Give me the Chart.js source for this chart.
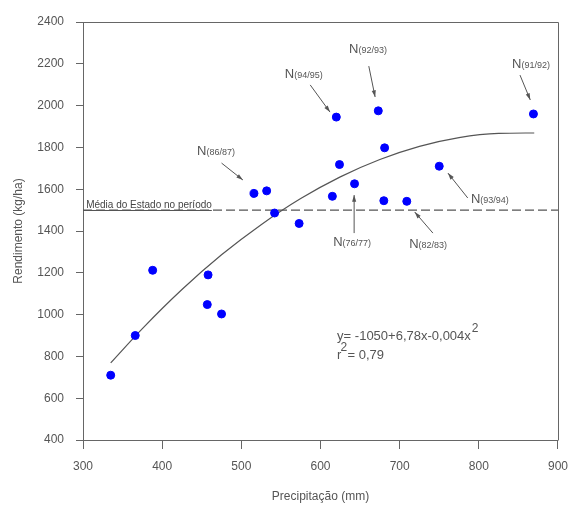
<!DOCTYPE html>
<html>
<head>
<meta charset="utf-8">
<script src="https://cdn.jsdelivr.net/npm/chart.js@4.4.1/dist/chart.umd.min.js"></script>
<style>
  html, body { margin: 0; padding: 0; background: #fff; }
</style>
</head>
<body>
<canvas id="chart" width="578" height="506"></canvas>
<script>
// precipitação (mm) x rendimento (kg/ha), um ponto por safra
const precip = [335, 366, 388, 458, 457, 475, 516, 532, 542, 573, 615, 643, 680, 709, 620, 673, 681, 624, 750, 869];
const rend   = [710, 900, 1212, 1190, 1048, 1003, 1580, 1592, 1486, 1436, 1566, 1626, 1545, 1542, 1945, 1975, 1798, 1718, 1710, 1960];

// curva ajustada
const curvaX = [335, 375, 425, 475, 525, 575, 625, 675, 725, 775, 825, 870];
const curvaY = [769, 933, 1120, 1286, 1430, 1555, 1659, 1742, 1805, 1847, 1867, 1869];

// media do estado no periodo
const mediaX = [300, 900];
const mediaY = [1500, 1500];

const safras = ['91/92', '92/93', '94/95', '86/87', '93/94', '76/77', '82/83'];

const FONT = "'Liberation Sans', Arial, sans-serif";
const TXT = '#555';

function pts(xs, ys) {
  return xs.map((x, i) => ({ x: x, y: ys[i] }));
}

const notas = {
  id: 'notas',
  afterDatasetsDraw(chart) {
    const { ctx, chartArea: a, scales: { x, y } } = chart;
    ctx.save();
    // moldura
    ctx.strokeStyle = '#666';
    ctx.lineWidth = 1;
    ctx.beginPath();
    ctx.moveTo(Math.round(a.left) + 0.5, Math.round(a.top) + 0.5);
    ctx.lineTo(Math.round(a.right) + 0.5, Math.round(a.top) + 0.5);
    ctx.lineTo(Math.round(a.right) + 0.5, Math.round(a.bottom) + 0.5);
    ctx.stroke();

    // rotulos das safras: [texto em (x,y)], seta de -> ate
    const pos = [
      [842, 2180, 852, 2146, 865, 2027],
      [636, 2252, 661, 2189, 669, 2041],
      [555, 2132, 587, 2099, 612, 1969],
      [444, 1764, 475, 1725, 502, 1644],
      [790, 1534, 786, 1558, 761, 1677],
      [616, 1328, 642.5, 1390, 642.5, 1572],
      [712, 1319, 742, 1390, 719, 1491]
    ];
    ctx.fillStyle = TXT;
    ctx.strokeStyle = '#555';
    ctx.textBaseline = 'alphabetic';
    ctx.textAlign = 'left';
    safras.forEach((s, i) => {
      const p = pos[i];
      const tx = x.getPixelForValue(p[0]);
      const ty = y.getPixelForValue(p[1]);
      ctx.font = '13px ' + FONT;
      ctx.fillText('N', tx, ty);
      const w = ctx.measureText('N').width;
      ctx.font = '9px ' + FONT;
      ctx.fillText('(' + s + ')', tx + w, ty);
      arrow(ctx, x.getPixelForValue(p[2]), y.getPixelForValue(p[3]),
                 x.getPixelForValue(p[4]), y.getPixelForValue(p[5]));
    });

    // media
    ctx.font = '10px ' + FONT;
    ctx.fillStyle = '#444';
    const mx = x.getPixelForValue(304);
    const mTxt = 'Média do Estado no período';
    ctx.fillText(mTxt, mx, y.getPixelForValue(1512));
    const my = Math.round(y.getPixelForValue(1500)) + 0.5;
    ctx.strokeStyle = '#555';
    ctx.lineWidth = 1.2;
    ctx.beginPath();
    ctx.moveTo(a.left, my);
    ctx.lineTo(mx + ctx.measureText(mTxt).width, my);
    ctx.stroke();

    // equacao
    ctx.fillStyle = TXT;
    ctx.font = '13px ' + FONT;
    const ex = x.getPixelForValue(621);
    const ey = y.getPixelForValue(878);
    const eq = 'y= -1050+6,78x-0,004x';
    ctx.fillText(eq, ex, ey);
    const ew = ctx.measureText(eq).width;
    ctx.font = '12px ' + FONT;
    ctx.fillText('2', ex + ew + 1, ey - 8);
    const ry = y.getPixelForValue(787);
    ctx.font = '13px ' + FONT;
    ctx.fillText('r', ex, ry);
    const rw = ctx.measureText('r').width;
    ctx.font = '12px ' + FONT;
    ctx.fillText('2', ex + rw - 1, ry - 8);
    ctx.font = '13px ' + FONT;
    ctx.fillText('= 0,79', ex + rw + 6, ry);
    ctx.restore();
  }
};

function arrow(ctx, x1, y1, x2, y2) {
  const ang = Math.atan2(y2 - y1, x2 - x1);
  const L = 7;
  ctx.lineWidth = 1;
  ctx.beginPath();
  ctx.moveTo(x1, y1);
  ctx.lineTo(x2, y2);
  ctx.stroke();
  ctx.beginPath();
  ctx.moveTo(x2, y2);
  ctx.lineTo(x2 - L * Math.cos(ang - 0.3), y2 - L * Math.sin(ang - 0.3));
  ctx.lineTo(x2 - L * Math.cos(ang + 0.3), y2 - L * Math.sin(ang + 0.3));
  ctx.closePath();
  ctx.fillStyle = '#555';
  ctx.fill();
}

const ctx = document.getElementById('chart').getContext('2d');
new Chart(ctx, {
  type: 'scatter',
  data: {
    datasets: [
      {
        data: pts(curvaX, curvaY),
        showLine: true,
        borderColor: '#555',
        borderWidth: 1.2,
        pointRadius: 0,
        cubicInterpolationMode: 'monotone',
        order: 3
      },
      {
        data: pts(mediaX, mediaY),
        showLine: true,
        borderColor: '#555',
        borderWidth: 1.2,
        borderDash: [9, 4],
        pointRadius: 0,
        order: 2
      },
      {
        data: pts(precip, rend),
        backgroundColor: '#0000ff',
        borderColor: '#0000ff',
        pointRadius: 4,
        order: 1
      }
    ]
  },
  options: {
    responsive: false,
    animation: false,
    devicePixelRatio: 1,
    layout: { padding: { top: 22, right: 15, left: 0, bottom: 0 } },
    plugins: { legend: { display: false }, tooltip: { enabled: false } },
    scales: {
      x: {
        type: 'linear',
        min: 300,
        max: 900,
        ticks: { stepSize: 100, color: TXT, font: { family: FONT, size: 12 }, padding: 10, callback: v => String(v) },
        grid: { drawOnChartArea: false, tickLength: 9, color: '#666' },
        border: { color: '#666' },
        title: { display: true, text: 'Precipitação (mm)', color: TXT, font: { family: FONT, size: 12 }, padding: { top: 0, bottom: 2 } },
        afterFit: s => { s.height = 66; }
      },
      y: {
        min: 400,
        max: 2400,
        ticks: { stepSize: 200, color: TXT, font: { family: FONT, size: 12 }, padding: 12, callback: v => String(v) },
        grid: { drawOnChartArea: false, tickLength: 7, color: '#666' },
        border: { color: '#666' },
        title: { display: true, text: 'Rendimento (kg/ha)', color: TXT, font: { family: FONT, size: 12 }, padding: { top: 11, bottom: 0 } },
        afterFit: s => { s.width = 83; }
      }
    }
  },
  plugins: [notas]
});
</script>
</body>
</html>
